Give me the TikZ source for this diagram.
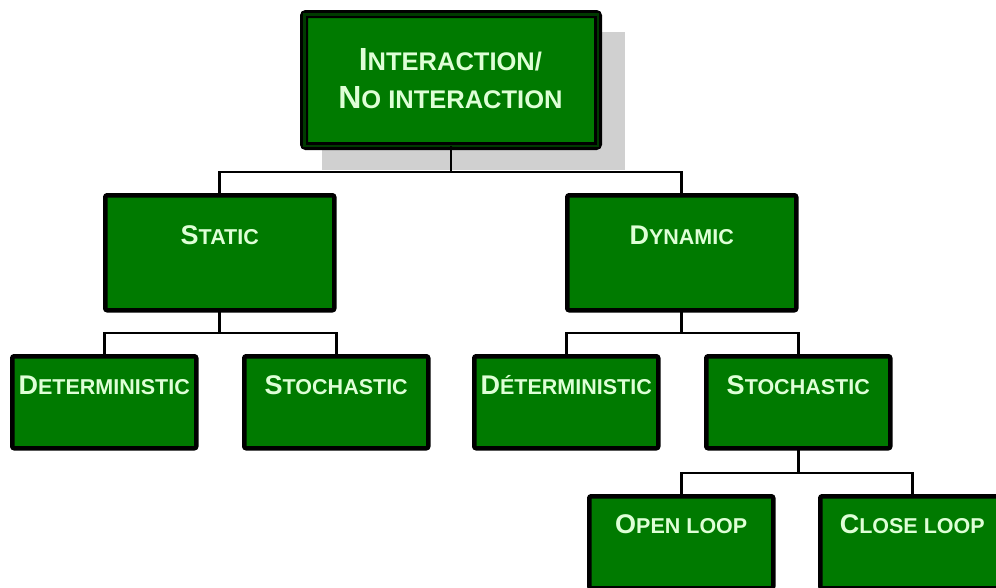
\documentclass[tikz,border=0pt]{standalone}
\usepackage{fontspec}
\setmainfont{Liberation Sans}
\definecolor{boxgreen}{RGB}{0,122,0}
\definecolor{deepgreen}{RGB}{0,58,0}
\definecolor{labelgreen}{RGB}{222,255,214}
\definecolor{shadowgray}{RGB}{208,208,208}
% fake small caps: large initial, smaller capitals after it
\newcommand\capsTop[2]{{\fontsize{32}{36}\selectfont #1}{\fontsize{25.5}{30}\selectfont #2}}
\newcommand\capsMid[2]{{\fontsize{27}{30}\selectfont #1}{\fontsize{21.5}{24}\selectfont #2}}
\tikzset{
  box/.style={draw=black, line width=4.5pt, fill=boxgreen, rounded corners=2pt,
              inner sep=0pt, outer sep=0pt, anchor=north west},
  midbox/.style={box, minimum width=229pt, minimum height=115pt},
  leafbox/.style={box, minimum width=184pt, minimum height=92pt},
  lbl/.style={anchor=base, inner sep=0pt, text=labelgreen, font=\bfseries, align=center},
  wire/.style={draw=black, line width=2.6pt}
}
\begin{document}
\begin{tikzpicture}[x=1pt, y=-1pt]
\useasboundingbox (0,0) rectangle (996,587);
\clip (0,0) rectangle (996,587);

% root with drop shadow and double border
\fill[shadowgray] (322,32) rectangle (625,170);
\node[box, line width=8pt, minimum width=294pt, minimum height=132pt] (root) at (304,14) {};
\draw[deepgreen, line width=2.5pt] (304.25,14.25) rectangle (597.75,145.75);
\node[lbl] (rootA) at (450.4,70) {\capsTop{I}{NTERACTION/}};
\node[lbl] (rootB) at (450.4,108) {\capsTop{N}{O INTERACTION}};

% second level
\node[midbox] (static) at (105.25,195.25) {};
\node[lbl] (staticT) at (219.75,244) {\capsMid{S}{TATIC}};
\node[midbox] (dynamic) at (567.25,195.25) {};
\node[lbl] (dynamicT) at (681.75,244) {\capsMid{D}{YNAMIC}};

% third level
\node[leafbox] (sdet) at (12.25,356.25) {};
\node[lbl] (sdetT) at (104.25,394) {\capsMid{D}{ETERMINISTIC}};
\node[leafbox] (ssto) at (244.25,356.25) {};
\node[lbl] (sstoT) at (336.25,394) {\capsMid{S}{TOCHASTIC}};
\node[leafbox] (ddet) at (474.25,356.25) {};
\node[lbl] (ddetT) at (566.25,394) {\capsMid{D}{ÉTERMINISTIC}};
\node[leafbox] (dsto) at (706.25,356.25) {};
\node[lbl] (dstoT) at (798.25,394) {\capsMid{S}{TOCHASTIC}};

% fourth level
\node[leafbox] (open) at (589.25,496.25) {};
\node[lbl] (openT) at (681.25,533) {\capsMid{O}{PEN LOOP}};
\node[leafbox] (close) at (820.25,496.25) {};
\node[lbl] (closeT) at (912.25,533) {\capsMid{C}{LOSE LOOP}};

% bus levels of the connectors
\coordinate (busA) at (0,172);
\coordinate (busB) at (0,333);
\coordinate (busC) at (0,333);
\coordinate (busD) at (0,473);

% connectors
\draw[wire] (root.south) -- (root.south |- busA);
\draw[wire] (static.north) |- (dynamic.north |- busA) -- (dynamic.north);
\draw[wire] (static.south) -- (static.south |- busB);
\draw[wire] (sdet.north) |- (ssto.north |- busB) -- (ssto.north);
\draw[wire] (dynamic.south) -- (dynamic.south |- busC);
\draw[wire] (ddet.north) |- (dsto.north |- busC) -- (dsto.north);
\draw[wire] (dsto.south) -- (dsto.south |- busD);
\draw[wire] (open.north) |- (close.north |- busD) -- (close.north);
\end{tikzpicture}
\end{document}
